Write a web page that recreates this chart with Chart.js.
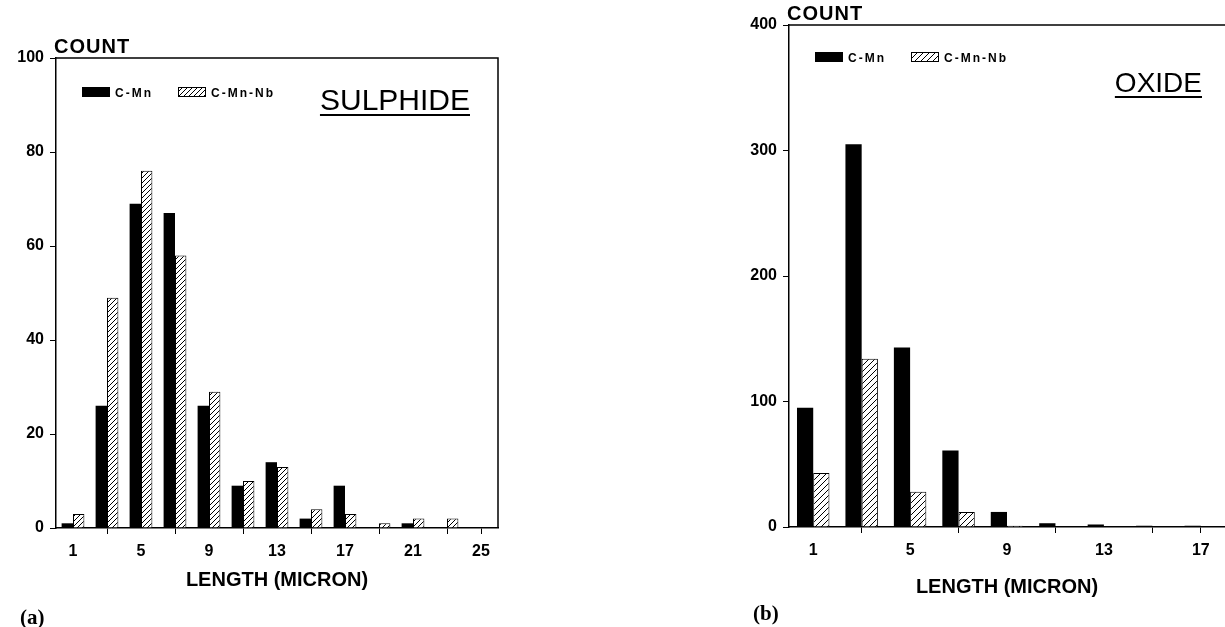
<!DOCTYPE html>
<html>
<head>
<meta charset="utf-8">
<script src="https://cdn.jsdelivr.net/npm/chart.js@4.4.1/dist/chart.umd.min.js"></script>
<style>
  body { margin: 0; background: #fff; width: 1225px; height: 627px; overflow: hidden; position: relative; }
  #sulphideBox { position: absolute; left: 0; top: 0; }
  #oxideBox { position: absolute; left: 700px; top: 0; }
</style>
</head>
<body>
<div id="sulphideBox"><canvas id="sulphideChart" width="560" height="627"></canvas></div>
<div id="oxideBox"><canvas id="oxideChart" width="525" height="627"></canvas></div>
<script>
/* (a) SULPHIDE - Daten */
const sulphideLaenge = ['1', '3', '5', '7', '9', '11', '13', '15', '17', '19', '21', '23', '25'];
const sulphideCMn = [1, 26, 69, 67, 26, 9, 14, 2, 9, 0, 1, 0, 0];
const sulphideCMnNb = [3, 49, 76, 58, 29, 10, 13, 4, 3, 1, 2, 2, 0];

/* (b) OXIDE - Daten */
const oxideLaenge = ['1', '3', '5', '7', '9', '11', '13', '15', '17'];
const oxideCMn = [95, 305, 143, 61, 12, 3, 2, 1, 1];
const oxideCMnNb = [43, 134, 28, 12, 1, 0, 0, 0, 0];

const serienNamen = ['C-Mn', 'C-Mn-Nb'];
const schrift = '"Liberation Sans", Arial, sans-serif';

// Schraffur-Muster fuer C-Mn-Nb
function schraffur(abstand) {
    const c = document.createElement('canvas');
    c.width = abstand;
    c.height = abstand;
    const g = c.getContext('2d');
    g.fillStyle = '#fff';
    g.fillRect(0, 0, abstand, abstand);
    g.strokeStyle = '#000';
    g.lineWidth = 1;
    g.beginPath();
    g.moveTo(0, abstand); g.lineTo(abstand, 0);
    g.moveTo(-1, 1); g.lineTo(1, -1);
    g.moveTo(abstand - 1, abstand + 1); g.lineTo(abstand + 1, abstand - 1);
    g.stroke();
    return g.createPattern(c, 'repeat');
}

// Rahmen, COUNT, Titel, Legende und (a)/(b) zeichnen
const dekoPlugin = {
    id: 'deko',
    afterDraw(chart, args, o) {
        const {ctx, chartArea: a} = chart;
        ctx.save();
        ctx.strokeStyle = '#000';
        ctx.lineWidth = 1.5;
        ctx.beginPath();
        ctx.moveTo(a.left, a.top);
        ctx.lineTo(a.right, a.top);
        if (o.rechts) ctx.lineTo(a.right, a.bottom);
        ctx.stroke();

        ctx.fillStyle = '#000';
        ctx.textAlign = 'left';
        ctx.textBaseline = 'alphabetic';
        ctx.font = 'bold 20px ' + schrift;
        ctx.letterSpacing = '1px';
        ctx.fillText('COUNT', a.left - 2, a.top - 5);
        ctx.letterSpacing = '0px';

        // Titel unterstrichen
        ctx.font = o.titelGroesse + 'px ' + schrift;
        ctx.textAlign = 'right';
        ctx.fillText(o.titel, o.titelX, o.titelY);
        const w = ctx.measureText(o.titel).width;
        ctx.fillRect(o.titelX - w, o.titelY + 4, w, 2);

        // Legende
        const ds = chart.data.datasets;
        const lx = [a.left + 26, a.left + 122];
        ctx.textAlign = 'left';
        ctx.font = 'bold 12px ' + schrift;
        ctx.letterSpacing = '2px';
        ds.forEach((d, i) => {
            ctx.fillStyle = d.backgroundColor;
            ctx.fillRect(lx[i], o.legendeY, 28, 10);
            ctx.strokeStyle = '#000';
            ctx.lineWidth = 1;
            ctx.strokeRect(lx[i] + 0.5, o.legendeY + 0.5, 27, 9);
            ctx.fillStyle = '#000';
            ctx.fillText(d.label, lx[i] + 33, o.legendeY + 10);
        });
        ctx.letterSpacing = '0px';

        ctx.font = 'bold 21px "Liberation Serif", "Times New Roman", serif';
        ctx.fillText(o.panel, o.panelX, o.panelY);
        ctx.restore();
    }
};

function config(labels, werteA, werteB, yMax, yStep, muster, yBreite, xHoehe, titelPad, padding, dekoOpt) {
    return {
        type: 'bar',
        data: {
            labels: labels,
            datasets: [{
                label: serienNamen[0],
                data: werteA,
                backgroundColor: '#000',
                borderWidth: 0
            }, {
                label: serienNamen[1],
                data: werteB,
                backgroundColor: muster,
                borderColor: '#000',
                borderWidth: 1
            }]
        },
        options: {
            responsive: false,
            animation: false,
            categoryPercentage: 0.67,
            barPercentage: 1,
            layout: {padding: padding},
            plugins: {
                legend: {display: false},
                tooltip: {enabled: false},
                deko: dekoOpt
            },
            scales: {
                x: {
                    afterFit: (s) => { s.height = xHoehe; },
                    grid: {
                        offset: false,
                        drawOnChartArea: false,
                        tickLength: 6,
                        tickColor: (c) => (c.index % 2 === 1 || c.index === labels.length - 1) ? '#000' : 'rgba(0,0,0,0)'
                    },
                    border: {display: true, color: '#000', width: 1.5},
                    ticks: {
                        autoSkip: false,
                        maxRotation: 0,
                        padding: 8,
                        color: '#000',
                        font: {family: schrift, size: 16, weight: 'bold'},
                        callback: (v, i) => i % 2 === 0 ? labels[i] : ''
                    },
                    title: {
                        display: true,
                        text: 'LENGTH (MICRON)',
                        color: '#000',
                        font: {family: schrift, size: 20, weight: 'bold'},
                        padding: {top: 0, bottom: titelPad}
                    }
                },
                y: {
                    min: 0,
                    max: yMax,
                    afterFit: (s) => { s.width = yBreite; },
                    grid: {drawOnChartArea: false, tickLength: 6, tickColor: '#000'},
                    border: {display: true, color: '#000', width: 1.5},
                    ticks: {
                        stepSize: yStep,
                        padding: 6,
                        color: '#000',
                        font: {family: schrift, size: 16, weight: 'bold'}
                    }
                }
            }
        },
        plugins: [dekoPlugin]
    };
}

// SULPHIDE-Chart erstellen
const sulphideChart = new Chart(document.getElementById('sulphideChart'),
    config(sulphideLaenge, sulphideCMn, sulphideCMnNb, 100, 20, schraffur(5), 56, 99, 35,
        {top: 58, right: 62, bottom: 0, left: 0},
        {titel: 'SULPHIDE', titelGroesse: 30, titelX: 470, titelY: 110, rechts: true,
         legendeY: 87, panel: '(a)', panelX: 20, panelY: 624}));

// OXIDE-Chart erstellen
const oxideChart = new Chart(document.getElementById('oxideChart'),
    config(oxideLaenge, oxideCMn, oxideCMnNb, 400, 100, schraffur(6), 89, 100, 28,
        {top: 25, right: 0, bottom: 0, left: 0},
        {titel: 'OXIDE', titelGroesse: 28, titelX: 502, titelY: 92, rechts: false,
         legendeY: 52, panel: '(b)', panelX: 53, panelY: 620}));
</script>
</body>
</html>
